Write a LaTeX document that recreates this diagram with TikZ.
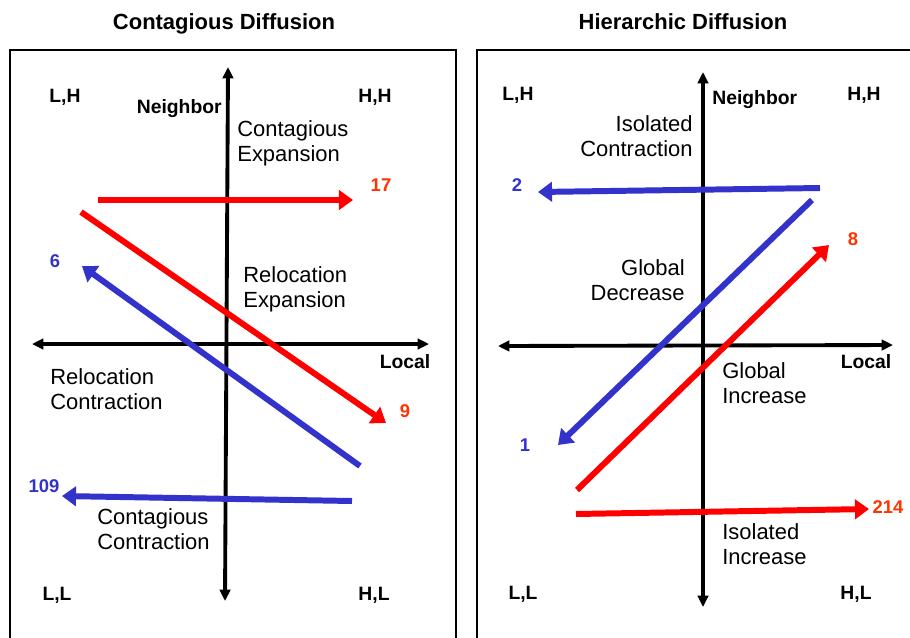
\documentclass[tikz,border=0pt]{standalone}
\usepackage{fontspec}
\setmainfont{Liberation Sans}
\usetikzlibrary{arrows.meta}
\usetikzlibrary{positioning}
\definecolor{flowblue}{RGB}{51,51,204}
\definecolor{flowred}{RGB}{255,0,0}
\definecolor{numred}{RGB}{255,51,0}

\begin{document}
\begin{tikzpicture}[
x=0.02cm, y=-0.02cm,
myaxis/.style={
line width=2.2pt,
{Triangle[length=6.5pt,width=6pt]}-{Triangle[length=6.5pt,width=6pt]}},
myframe/.style={line width=1.1pt},
redarrow/.style={line width=3.4pt, draw=flowred, -{Triangle[length=8pt,width=11pt]}},
bluearrow/.style={line width=3.4pt, draw=flowblue, -{Triangle[length=8pt,width=11pt]}},
title/.style={font=\fontsize{12.5}{14}\selectfont\bfseries, inner sep=0pt, anchor=base},
corner/.style={font=\fontsize{11}{13}\selectfont\bfseries, inner sep=0pt, anchor=base},
quadrant/.style={font=\fontsize{12.5}{14.2}\selectfont, inner sep=0pt},
num/.style={font=\fontsize{10.5}{12}\selectfont\bfseries, inner sep=0pt, anchor=base}
]
\useasboundingbox (0,0) rectangle (910,637);

% panels
\draw[myframe] (10,660) -- (10,50) -- (456,50) -- (456,660);
\draw[myframe] (477,660) -- (477,50) -- (930,50);
\node[title] (t1) at (224,29) {Contagious Diffusion};
\node[title] (t2) at (683,29) {Hierarchic Diffusion};

% end points of axes and arrows
\foreach \n/\x/\y in {
  ay1/228/67, ay2/225/601, ax1/32/344, ax2/429/344,
  by1/703/72, by2/703/607, bx1/498/346, bx2/893/345,
  r1s/98/200, r1e/353/200, r2s/81/212, r2e/386/423,
  b1s/360/466, b1e/82/266, b2s/352/501, b2e/62/496,
  b3s/820/188, b3e/538/192, b4s/812/200, b4e/558/445,
  r3s/577/490, r3e/829/245, r4s/576/514, r4e/869/509}
  \coordinate (\n) at (\x,\y);

\foreach \i/\j in {ay1/ay2, ax1/ax2, by1/by2, bx1/bx2}
  \draw[myaxis] (\i) -- (\j);

\foreach \i/\j/\s in {
  r1s/r1e/redarrow, r2s/r2e/redarrow,
  b1s/b1e/bluearrow, b2s/b2e/bluearrow,
  b3s/b3e/bluearrow, b4s/b4e/bluearrow,
  r3s/r3e/redarrow, r4s/r4e/redarrow}
  \draw[\s] (\i) -- (\j);

% corners and axis names
\foreach \n/\x/\y/\txt in {
  lh1/65/102/{L,H}, hh1/375/102/{H,H}, ll1/57/600/{L,L}, hl1/374/600/{H,L},
  loc1/405/368/Local,
  lh2/518/100/{L,H}, hh2/864/100/{H,H}, ll2/523/599/{L,L}, hl2/856/599/{H,L},
  loc2/866/368/Local}
  \node[corner] (\n) at (\x,\y) {\txt};
\node[corner, anchor=base east] (nb1) at (222,113) {Neighbor};
\node[corner, anchor=base west] (nb2) at (712,104) {Neighbor};

% quadrant labels
\node[quadrant, align=left, anchor=north west] (ce) at (237,120) {Contagious\\Expansion};
\node[quadrant, align=left, anchor=north west] (re) at (243,266) {Relocation\\Expansion};
\node[quadrant, align=left, anchor=north west] (rc) at (50,368) {Relocation\\Contraction};
\node[quadrant, align=left, anchor=north west] (cc) at (97,508) {Contagious\\Contraction};
\node[quadrant, align=right, anchor=north east] (ic) at (693,115) {Isolated\\Contraction};
\node[quadrant, align=right, anchor=north east] (gd) at (685,259) {Global\\Decrease};
\node[quadrant, align=left, anchor=north west] (gi) at (722,362) {Global\\Increase};
\node[quadrant, align=left, anchor=north west] (ii) at (722,523) {Isolated\\Increase};

% counts
\foreach \n/\x/\y/\c/\txt in {
  n17/381/191/numred/17, n6/55/267/flowblue/6, n9/405/417/numred/9, n109/44/492/flowblue/109,
  n2/517/191/flowblue/2, n8/853/245/numred/8, n1/525/451/flowblue/1, n214/888/513/numred/214}
  \node[num, text=\c] (\n) at (\x,\y) {\txt};
\end{tikzpicture}
\end{document}
